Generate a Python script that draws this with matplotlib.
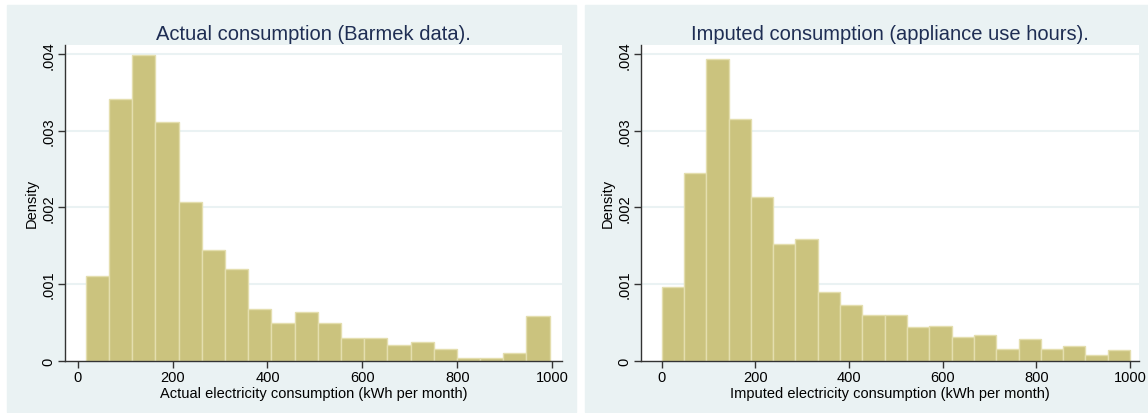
import numpy as np
import matplotlib.pyplot as plt
from matplotlib.patches import Rectangle

plt.rcParams['font.family'] = ['Liberation Sans', 'DejaVu Sans']

# Histogram densities, read bin by bin
actual_range = (17, 995)
actual_density = [0.00111, 0.00341, 0.00399, 0.00312, 0.00207, 0.00145, 0.00120,
                  0.00067, 0.00049, 0.00063, 0.00049, 0.00029, 0.00029, 0.00020,
                  0.00024, 0.00015, 0.00004, 0.00004, 0.00010, 0.00058]

imputed_range = (0, 1000)
imputed_density = [0.00096, 0.00245, 0.00394, 0.00316, 0.00213, 0.00152, 0.00159,
                   0.00090, 0.00073, 0.00060, 0.00060, 0.00044, 0.00045, 0.00031,
                   0.00033, 0.00015, 0.00028, 0.00015, 0.00019, 0.00008, 0.00014]

titles = ["Actual consumption (Barmek data).",
          "Imputed consumption (appliance use hours)."]
xlabels = ["Actual electricity consumption (kWh per month)",
           "Imputed electricity consumption (kWh per month)"]
xticks = [0, 200, 400, 600, 800, 1000]
yticks = [0, 0.001, 0.002, 0.003, 0.004]
ytick_labels = ["0", ".001", ".002", ".003", ".004"]

BG = '#EAF2F3'
BAR = '#CBC37E'
BAR_EDGE = '#E4DEAE'
TITLE_COLOR = '#1E2D53'

fig = plt.figure(figsize=(11.48, 4.14), dpi=100)
fig.patch.set_facecolor('white')

# graph region backgrounds, kept behind the axes
fig.patches.append(Rectangle((7 / 1148, 1 / 414), 569 / 1148, 407 / 414,
                             transform=fig.transFigure, color=BG, zorder=-10))
fig.patches.append(Rectangle((585 / 1148, 1 / 414), 563 / 1148, 407 / 414,
                             transform=fig.transFigure, color=BG, zorder=-10))

ax_pos = [[65 / 1148, 0.1263, 497 / 1148, 0.7626],
          [641 / 1148, 0.1263, 498 / 1148, 0.7626]]
xlims = [(-27, 1021), (-44, 1019)]
panels = [(actual_range, actual_density), (imputed_range, imputed_density)]

for i, (rng, dens) in enumerate(panels):
    ax = fig.add_axes(ax_pos[i])
    ax.set_facecolor('white')
    edges = np.linspace(rng[0], rng[1], len(dens) + 1)
    widths = np.diff(edges)
    for y in yticks[1:]:
        ax.axhline(y, color=BG, lw=1.5, zorder=0)
    ax.bar(edges[:-1], dens, width=widths, align='edge', color=BAR,
           edgecolor=BAR_EDGE, linewidth=1.0, zorder=2)

    ax.set_xlim(*xlims[i])
    ax.set_ylim(0, 0.00412)
    ax.set_xticks(xticks)
    ax.set_xticklabels([str(t) for t in xticks])
    ax.set_yticks(yticks)
    ax.set_yticklabels(ytick_labels)
    plt.setp(ax.get_yticklabels(), rotation=90, va='center')

    for side in ['top', 'right']:
        ax.spines[side].set_visible(False)
    for side in ['left', 'bottom']:
        ax.spines[side].set_color('#333333')
        ax.spines[side].set_linewidth(1.0)
    ax.tick_params(axis='both', colors='#333333', labelcolor='black',
                   length=5, width=1.0, labelsize=10.5, pad=2)

    ax.set_title(titles[i], fontsize=14.5, color=TITLE_COLOR, pad=4)
    ax.set_xlabel(xlabels[i], fontsize=10.5, labelpad=1)
    ax.set_ylabel("Density", fontsize=10.5, labelpad=2)

fig.savefig('out.png', dpi=100)
